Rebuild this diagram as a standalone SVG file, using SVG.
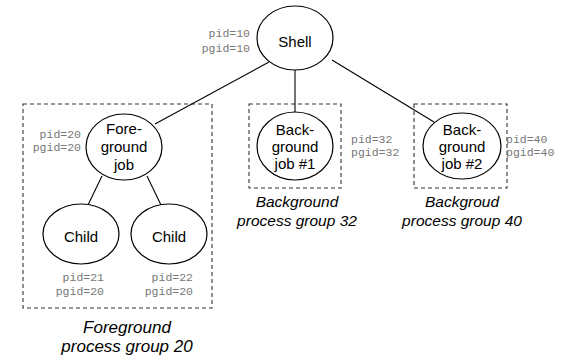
<svg xmlns="http://www.w3.org/2000/svg" width="562" height="355" viewBox="0 0 562 355">
<style>
.node{fill:#fff;stroke:#000;stroke-width:1.2}
.grp{fill:none;stroke:#333;stroke-width:1.1;stroke-dasharray:4 3}
.edge{stroke:#000;stroke-width:1.1;fill:none}
.lbl{font-family:"Liberation Sans",Arial,sans-serif;font-size:15px;fill:#000;text-anchor:middle}
.pid{font-family:"Liberation Mono","Courier New",monospace;font-size:11.5px;fill:#777}
.cap{font-family:"Liberation Sans",Arial,sans-serif;font-style:italic;fill:#000;text-anchor:middle}
</style>
<g id="groups">
<rect id="fg-group" class="grp" x="23" y="104" width="189" height="204"/>
<rect id="bg32-group" class="grp" x="249" y="104" width="92" height="84"/>
<rect id="bg40-group" class="grp" x="414" y="104" width="93" height="84"/>
</g>
<g id="connectors">
<line class="edge" x1="269" y1="62" x2="155" y2="124"/>
<line class="edge" x1="295" y1="70" x2="295" y2="112"/>
<line class="edge" x1="332" y1="60" x2="434" y2="122"/>
<line class="edge" x1="102" y1="176" x2="88" y2="205"/>
<line class="edge" x1="147" y1="176" x2="161" y2="205"/>
</g>
<g id="shell">
<ellipse class="node" cx="295" cy="38" rx="38" ry="32"/>
<text class="lbl" x="295" y="47">Shell</text>
<text class="pid" x="250" y="37" text-anchor="end">pid=10</text>
<text class="pid" x="250" y="52" text-anchor="end">pgid=10</text>
</g>
<g id="foreground-job">
<ellipse class="node" cx="124" cy="147" rx="38" ry="33"/>
<text class="lbl" x="124" y="134">Fore-</text>
<text class="lbl" x="124" y="152">ground</text>
<text class="lbl" x="124" y="170">job</text>
<text class="pid" x="81" y="138" text-anchor="end">pid=20</text>
<text class="pid" x="81" y="151" text-anchor="end">pgid=20</text>
</g>
<g id="child1">
<ellipse class="node" cx="81" cy="234" rx="38" ry="30"/>
<text class="lbl" x="81" y="242">Child</text>
<text class="pid" x="104" y="281" text-anchor="end">pid=21</text>
<text class="pid" x="104" y="295" text-anchor="end">pgid=20</text>
</g>
<g id="child2">
<ellipse class="node" cx="169" cy="234" rx="38" ry="30"/>
<text class="lbl" x="169" y="242">Child</text>
<text class="pid" x="193" y="281" text-anchor="end">pid=22</text>
<text class="pid" x="193" y="295" text-anchor="end">pgid=20</text>
</g>
<g id="bg-job1">
<ellipse class="node" cx="295" cy="146" rx="38" ry="34"/>
<text class="lbl" x="295" y="135">Back-</text>
<text class="lbl" x="295" y="152">ground</text>
<text class="lbl" x="295" y="169">job #1</text>
<text class="pid" x="351" y="143">pid=32</text>
<text class="pid" x="351" y="156">pgid=32</text>
</g>
<g id="bg-job2">
<ellipse class="node" cx="462" cy="146" rx="39" ry="33"/>
<text class="lbl" x="462" y="135">Back-</text>
<text class="lbl" x="462" y="152">ground</text>
<text class="lbl" x="462" y="169">job #2</text>
<text class="pid" x="506" y="143">pid=40</text>
<text class="pid" x="506" y="156">pgid=40</text>
</g>
<g id="captions">
<text class="cap" x="127" y="333" font-size="17">Foreground</text>
<text class="cap" x="127" y="352" font-size="17">process group 20</text>
<text class="cap" x="297" y="207" font-size="15.5">Background</text>
<text class="cap" x="297" y="226" font-size="15.5">process group 32</text>
<text class="cap" x="462" y="207" font-size="15.5">Backgroud</text>
<text class="cap" x="462" y="226" font-size="15.5">process group 40</text>
</g>
</svg>
